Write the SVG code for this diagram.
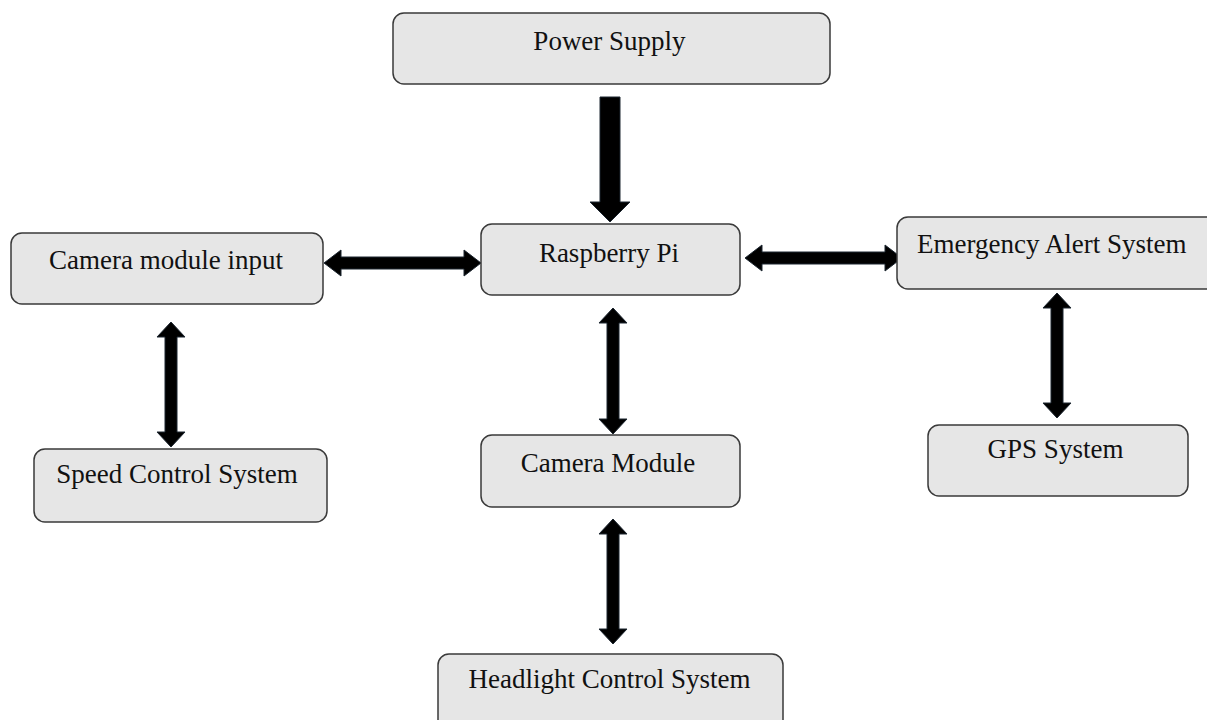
<svg xmlns="http://www.w3.org/2000/svg" width="1207" height="720" viewBox="0 0 1207 720">
<style>
.box{fill:#e6e6e6;stroke:#3a3a3a;stroke-width:1.5}
.lbl{font-family:"Liberation Serif","Times New Roman",serif;font-size:27px;fill:#111}
.arr{fill:#000;stroke:#1c2630;stroke-width:1}
</style>
<rect width="1207" height="720" fill="#fff"/>
<g id="connectors">
<path class="arr" d="M600,97 L620,97 L620,202 L630,202 L610,222 L590,202 L600,202 Z"/>
<path class="arr" d="M324,263 L341,250 L341,257 L464,257 L464,250 L481,263 L464,276 L464,269 L341,269 L341,276 Z"/>
<path class="arr" d="M745,258 L762,245 L762,252 L885,252 L885,245 L902,258 L885,271 L885,264 L762,264 L762,271 Z"/>
<path class="arr" d="M171,322 L185,337 L177,337 L177,432 L185,432 L171,447 L157,432 L165,432 L165,337 L157,337 Z"/>
<path class="arr" d="M613,308 L627,323 L619,323 L619,419 L627,419 L613,434 L599,419 L607,419 L607,323 L599,323 Z"/>
<path class="arr" d="M613,519 L627,534 L619,534 L619,629 L627,629 L613,644 L599,629 L607,629 L607,534 L599,534 Z"/>
<path class="arr" d="M1057,293 L1071,308 L1063,308 L1063,403 L1071,403 L1057,418 L1043,403 L1051,403 L1051,308 L1043,308 Z"/>
</g>
<g id="power-supply"><rect class="box" x="393" y="13" width="437" height="71" rx="11"/><text class="lbl" x="609.5" y="50" text-anchor="middle">Power Supply</text></g>
<g id="raspberry-pi"><rect class="box" x="481" y="224" width="259" height="71" rx="11"/><text class="lbl" x="609" y="262" text-anchor="middle">Raspberry Pi</text></g>
<g id="camera-module-input"><rect class="box" x="11" y="233" width="312" height="71" rx="11"/><text class="lbl" x="166" y="269" text-anchor="middle">Camera module input</text></g>
<g id="emergency-alert"><rect class="box" x="897" y="217" width="320" height="72" rx="11"/><text class="lbl" x="917" y="253">Emergency Alert System</text></g>
<g id="speed-control"><rect class="box" x="34" y="449" width="293" height="73" rx="11"/><text class="lbl" x="177" y="483" text-anchor="middle">Speed Control System</text></g>
<g id="camera-module"><rect class="box" x="481" y="435" width="259" height="72" rx="11"/><text class="lbl" x="608" y="472" text-anchor="middle">Camera Module</text></g>
<g id="gps-system"><rect class="box" x="928" y="425" width="260" height="71" rx="11"/><text class="lbl" x="1055.5" y="458" text-anchor="middle">GPS System</text></g>
<g id="headlight-control"><rect class="box" x="438" y="654" width="345" height="80" rx="11"/><text class="lbl" x="609.5" y="688" text-anchor="middle">Headlight Control System</text></g>
</svg>
